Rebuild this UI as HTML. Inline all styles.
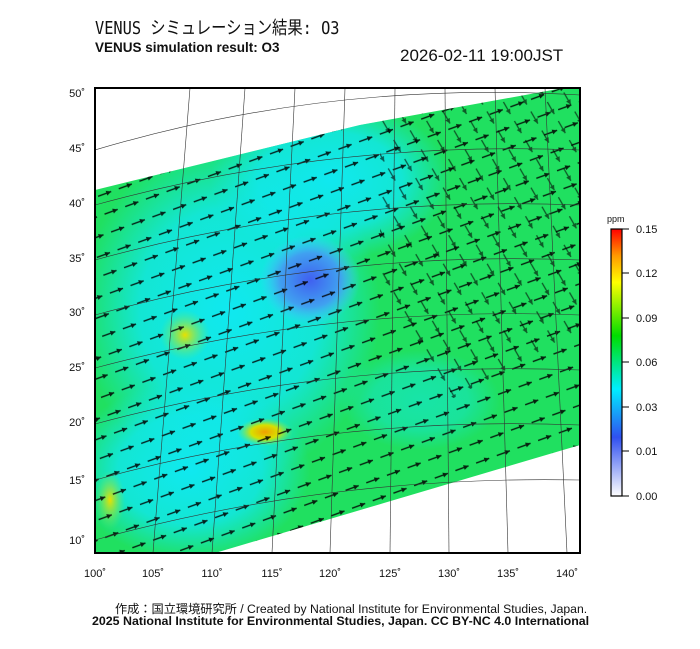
<!DOCTYPE html>
<html><head><meta charset="utf-8"><style>
body{margin:0;background:#fff;width:700px;height:649px;overflow:hidden;font-family:"Liberation Sans","Noto Sans CJK JP",sans-serif}
.t{position:absolute;white-space:nowrap;color:#111}
</style></head><body>
<div class="t" style="left:95px;top:14px;font-size:18px;font-family:'DejaVu Sans Mono','Noto Sans CJK JP',monospace;transform:scaleX(0.85);transform-origin:left">VENUS シミュレーション結果: O3</div>
<div class="t" style="left:95px;top:40px;font-size:13.5px;font-weight:bold">VENUS simulation result: O3</div>
<div class="t" style="left:400px;top:46px;font-size:17px">2026-02-11 19:00JST</div>
<svg width="700" height="649" style="position:absolute;left:0;top:0">
<defs>
<clipPath id="c"><rect x="95" y="88" width="485" height="465"/></clipPath>
<clipPath id="pg"><polygon points="95,190 360,125 580,85 580,445 215,553 95,553"/></clipPath>
<pattern id="ar" width="22" height="19" patternUnits="userSpaceOnUse" patternTransform="rotate(-20)">
<line x1="3" y1="9" x2="17" y2="9" stroke="#000" stroke-width="1.4"/><path d="M17 9 l-5 -2.5 v5z" fill="#000"/>
</pattern>
<pattern id="ar2" width="22" height="19" patternUnits="userSpaceOnUse" patternTransform="rotate(60) translate(7 5)">
<line x1="3" y1="9" x2="17" y2="9" stroke="#000" stroke-width="1.3"/><path d="M17 9 l-5 -2.5 v5z" fill="#000"/>
</pattern>
<radialGradient id="y1"><stop offset="0" stop-color="#e8e000"/><stop offset="1" stop-color="#6e6" stop-opacity="0"/></radialGradient>
<radialGradient id="y2"><stop offset="0" stop-color="#f0a000"/><stop offset="0.5" stop-color="#d8e000"/><stop offset="1" stop-color="#6e6" stop-opacity="0"/></radialGradient>
<radialGradient id="b1"><stop offset="0" stop-color="#4060f0"/><stop offset="0.6" stop-color="#40a0f0"/><stop offset="1" stop-color="#4cf" stop-opacity="0"/></radialGradient>
<radialGradient id="cy"><stop offset="0" stop-color="#10e8f0"/><stop offset="0.6" stop-color="#10e8f0" stop-opacity="0.8"/><stop offset="1" stop-color="#10e8f0" stop-opacity="0"/></radialGradient>
<linearGradient id="cb" x1="0" y1="1" x2="0" y2="0">
<stop offset="0" stop-color="#fff"/><stop offset="0.22" stop-color="#3050f0"/><stop offset="0.4" stop-color="#0ef"/><stop offset="0.6" stop-color="#0d0"/><stop offset="0.8" stop-color="#ff0"/><stop offset="0.9" stop-color="#f90"/><stop offset="1" stop-color="#f00"/></linearGradient>
<clipPath id="rg"><polygon points="380,88 580,88 580,330 450,400 380,300"/></clipPath>
</defs>
<g clip-path="url(#c)">
<g clip-path="url(#pg)">
<rect x="95" y="85" width="485" height="470" fill="#20e060"/>
<ellipse cx="230" cy="310" rx="150" ry="170" fill="url(#cy)"/>
<ellipse cx="330" cy="180" rx="120" ry="80" fill="url(#cy)"/>
<ellipse cx="190" cy="470" rx="120" ry="90" fill="url(#cy)"/>
<ellipse cx="420" cy="400" rx="80" ry="50" fill="url(#cy)" opacity="0.5"/>
<ellipse cx="310" cy="280" rx="50" ry="45" fill="url(#b1)"/>
<ellipse cx="185" cy="335" rx="25" ry="25" fill="url(#y1)"/>
<ellipse cx="265" cy="432" rx="28" ry="14" fill="url(#y2)"/>
<ellipse cx="110" cy="500" rx="15" ry="30" fill="url(#y1)"/>
<rect x="95" y="85" width="485" height="470" fill="url(#ar)" opacity="0.85"/>
<g clip-path="url(#rg)"><rect x="380" y="88" width="200" height="320" fill="url(#ar2)" opacity="0.6"/></g>
</g>
<g stroke="#333" stroke-width="0.6" fill="none">
<path d="M95 150 Q330 80 580 95"/><path d="M95 205 Q330 140 580 150"/><path d="M95 260 Q330 195 580 205"/>
<path d="M95 315 Q330 250 580 260"/><path d="M95 368 Q330 305 580 315"/><path d="M95 424 Q330 360 580 370"/>
<path d="M95 480 Q330 415 580 425"/><path d="M95 540 Q330 475 580 480"/>
<path d="M153 553 L190 88"/><path d="M212 553 L245 88"/><path d="M272 553 L295 88"/><path d="M330 553 L345 88"/>
<path d="M390 553 L395 88"/><path d="M449 553 L445 88"/><path d="M508 553 L495 88"/><path d="M567 553 L545 88"/>
</g>
</g>
<rect x="95" y="88" width="485" height="465" fill="none" stroke="#000" stroke-width="2"/>
<g font-size="11" fill="#111" text-anchor="end">
<text x="85" y="97">50˚</text><text x="85" y="152">45˚</text><text x="85" y="207">40˚</text><text x="85" y="262">35˚</text><text x="85" y="316">30˚</text><text x="85" y="371">25˚</text><text x="85" y="426">20˚</text><text x="85" y="484">15˚</text><text x="85" y="544">10˚</text>
</g>
<g font-size="11" fill="#111" text-anchor="middle">
<text x="95" y="577">100˚</text><text x="153" y="577">105˚</text><text x="212" y="577">110˚</text><text x="272" y="577">115˚</text><text x="330" y="577">120˚</text><text x="390" y="577">125˚</text><text x="449" y="577">130˚</text><text x="508" y="577">135˚</text><text x="567" y="577">140˚</text>
</g>
<rect x="611" y="229" width="11" height="267" fill="url(#cb)" stroke="#000" stroke-width="1.2"/>
<g stroke="#000" stroke-width="1"><line x1="622" y1="229" x2="629" y2="229"/><line x1="622" y1="273" x2="629" y2="273"/><line x1="622" y1="318" x2="629" y2="318"/><line x1="622" y1="362" x2="629" y2="362"/><line x1="622" y1="407" x2="629" y2="407"/><line x1="622" y1="451" x2="629" y2="451"/><line x1="622" y1="496" x2="629" y2="496"/></g>
<g font-size="11" fill="#111"><text x="607" y="222" font-size="9">ppm</text>
<text x="636" y="233">0.15</text><text x="636" y="277">0.12</text><text x="636" y="322">0.09</text><text x="636" y="366">0.06</text><text x="636" y="411">0.03</text><text x="636" y="455">0.01</text><text x="636" y="500">0.00</text></g>
</svg>
<div class="t" style="left:115px;top:599px;font-size:12.2px">作成：国立環境研究所 / Created by National Institute for Environmental Studies, Japan.</div>
<div class="t" style="left:92px;top:614px;font-size:12.4px;font-weight:bold">2025 National Institute for Environmental Studies, Japan. CC BY-NC 4.0 International</div>
</body></html>
